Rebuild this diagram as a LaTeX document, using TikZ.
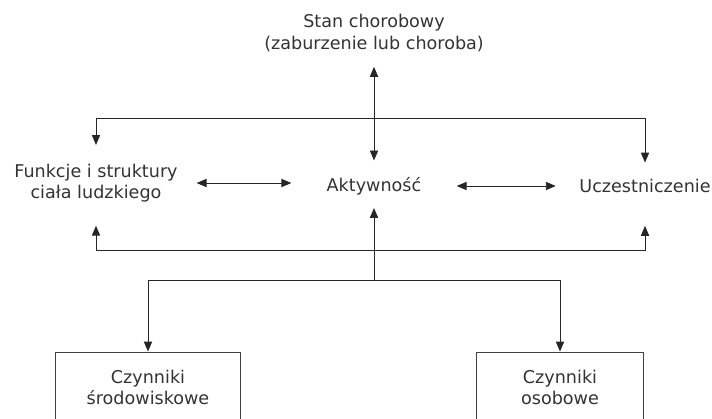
\documentclass[tikz,border=0pt]{standalone}
\usepackage{fontspec}
\setmainfont{DejaVu Sans}
\usepackage{tikz}
\usetikzlibrary{arrows.meta}

\tikzset{
  tekst/.style={inner sep=0pt, align=center, text=black!80,
    font=\fontsize{15}{18}\selectfont},
  ramka/.style={tekst, draw=black!75, line width=0.8pt,
    minimum width=5.55cm, minimum height=2.1cm},
  linia/.style={draw=black!85, line width=0.8pt},
  grot/.tip={Triangle[length=8.5pt,width=7pt]},
  strz/.style={-grot},
  dwie/.style={grot-grot},
}

\begin{document}
\begin{tikzpicture}[x=0.03cm, y=-0.03cm] % 1 px = 0.03 cm
    \useasboundingbox (0,0) rectangle (712,418);
    \clip (0,0) rectangle (712,418);
    % Wezly
    \node[tekst] (stan) at (374,33) {Stan chorobowy\\(zaburzenie lub choroba)};
    \node[tekst] (funk) at (96,183) {Funkcje i struktury\\ciała ludzkiego};
    \node[tekst] (akt) at (374,186) {Aktywność};
    \node[tekst] (ucz) at (645,186) {Uczestniczenie};
    \node[ramka] (srod) at (148,387) {Czynniki\\środowiskowe};
    \node[ramka, minimum width=5.0cm] (osob) at (560,387) {Czynniki\\osobowe};
    % Punkty rozgalezien
    \coordinate (gora) at (374,118);
    \coordinate (pas) at (374,250);
    \coordinate (dol) at (374,280);
    % Gorna linia
    \draw[linia, strz, shorten >=13pt] (gora) -- (stan);
    \draw[linia, strz, shorten >=14pt] (gora) -- (akt);
    \draw[linia, dwie, shorten <=16pt, shorten >=14pt]
        (funk) -- (funk |- gora) -- (ucz |- gora) -- (ucz);
    % Strzalki poziome
    \draw[linia, dwie, shorten <=16pt, shorten >=30pt] (funk.east) -- (akt.west |- funk.east);
    \draw[linia, dwie, shorten <=30pt, shorten >=20pt] (akt.east) -- (ucz.west);
    % Dolna linia
    \draw[linia, dwie, shorten <=20pt, shorten >=28pt]
        (funk) -- (funk |- pas) -- (ucz |- pas) -- (ucz);
    % Czynniki kontekstowe
    \draw[linia, strz, shorten >=11pt] (dol) -- (akt);
    \draw[linia, strz] (dol) -| (srod.north);
    \draw[linia, strz] (dol) -| (osob.north);
\end{tikzpicture}
\end{document}
